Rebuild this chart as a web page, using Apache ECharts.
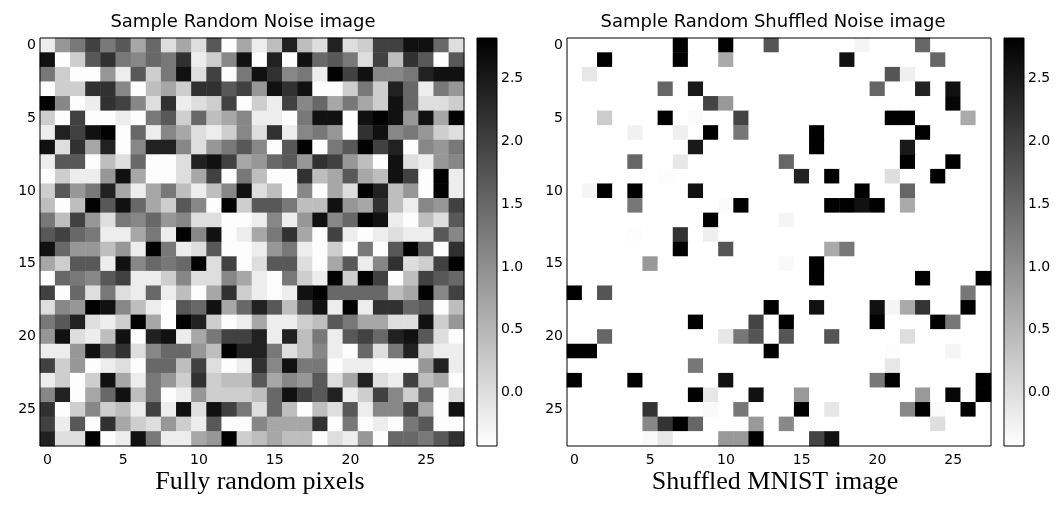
<!DOCTYPE html>
<html>
<head>
<meta charset="UTF-8">
<title>Random noise vs shuffled MNIST</title>
<script src="https://cdn.jsdelivr.net/npm/echarts@6/dist/echarts.min.js"></script>
<style>
  html, body { margin: 0; padding: 0; background: #fff; }
  #main { width: 1060px; height: 518px; }
</style>
</head>
<body>
<div id="main"></div>
<script type="text/javascript">
// pixel index along each image axis
var pixelIdx = [0,1,2,3,4,5,6,7,8,9,10,11,12,13,14,15,16,17,18,19,20,21,22,23,24,25,26,27];
// normalised MNIST range shown by the colour bars
var valueRange = [-0.4242, 2.8215];
var cbTicks = [0, 0.5, 1.0, 1.5, 2.0, 2.5];

// left image: fully random pixels (row by row)
var noise = [
  [-0.2,0.9,1.3,2.0,1.3,1.7,0.7,1.5,0.0,0.7,0.0,1.7,-0.4,0.7,-0.2,0.4,2.4,0.4,0.0,2.4,0.0,0.2,2.0,2.0,2.6,2.6,1.5,0.0],
  [2.6,-0.4,0.2,1.7,2.2,1.3,1.1,1.5,1.3,2.2,-0.2,0.2,1.1,2.6,-0.4,2.4,-0.4,2.6,1.5,1.7,1.3,0.0,2.0,0.4,2.2,1.7,-0.4,1.7],
  [1.3,0.2,-0.4,-0.4,0.9,-0.2,1.7,0.2,1.3,2.6,0.0,2.0,-0.4,1.3,2.6,2.2,1.1,1.3,-0.2,2.8,2.0,2.6,1.1,1.1,1.3,2.4,2.6,2.6],
  [-0.4,0.2,0.2,2.2,2.2,1.1,-0.4,0.4,0.7,0.2,2.2,2.2,1.7,2.0,0.9,2.6,2.2,2.6,-0.4,-0.4,0.2,1.3,0.2,2.4,1.5,-0.2,1.3,0.9],
  [2.8,1.1,-0.4,-0.2,2.2,2.0,1.1,0.0,2.2,-0.2,0.0,0.2,2.0,-0.4,0.2,-0.2,2.0,1.1,1.5,0.7,1.3,0.7,0.2,2.6,1.5,0.0,0.0,0.2],
  [0.2,-0.4,2.0,-0.4,-0.4,-0.2,-0.4,1.3,1.7,0.2,1.5,0.4,0.7,1.1,-0.2,-0.2,-0.4,1.3,2.6,2.6,-0.4,2.6,2.8,2.6,0.9,2.6,0.7,2.8],
  [-0.2,2.4,2.0,2.6,2.8,-0.4,1.5,-0.2,1.1,0.7,0.0,-0.2,0.2,1.1,0.0,2.2,-0.2,1.1,1.3,0.9,-0.4,2.2,2.6,1.1,1.3,0.9,0.2,0.0],
  [2.6,0.0,2.2,0.7,2.4,-0.4,1.1,2.4,2.4,1.1,0.0,0.9,1.3,1.7,1.1,-0.4,1.7,2.8,-0.4,1.3,1.7,2.8,2.0,2.4,-0.4,1.1,0.9,1.3],
  [-0.2,1.7,1.7,-0.4,0.4,0.0,1.5,-0.4,-0.4,0.0,2.4,2.6,2.0,0.7,0.9,1.5,1.7,0.9,2.2,2.0,0.9,0.4,-0.4,2.6,0.0,-0.2,0.9,1.1],
  [-0.4,0.2,-0.2,-0.2,0.9,2.6,0.7,-0.4,-0.4,0.0,0.7,2.0,-0.4,1.3,0.4,-0.4,-0.4,2.2,0.4,0.7,1.7,0.7,0.4,2.6,2.0,-0.4,2.8,-0.2],
  [0.2,1.7,0.9,1.3,2.4,0.7,-0.2,0.7,1.3,0.4,-0.2,0.4,1.1,2.6,0.0,0.4,-0.4,1.1,-0.4,0.7,0.0,2.8,2.4,0.4,0.9,-0.4,2.8,-0.2],
  [0.4,-0.4,0.4,2.8,1.7,2.6,1.5,0.7,0.2,1.7,1.1,-0.4,2.8,0.2,1.7,1.7,1.3,0.4,0.4,2.6,0.9,0.7,2.2,0.4,-0.2,1.1,0.9,2.0],
  [1.3,0.4,2.0,0.9,0.0,1.3,1.1,1.5,0.9,1.1,0.0,0.0,-0.4,-0.4,-0.2,1.1,-0.2,0.9,2.6,1.1,1.5,2.8,2.6,-0.2,-0.4,0.4,0.0,1.7],
  [1.7,2.0,1.5,1.3,-0.2,-0.2,0.7,1.3,-0.2,2.8,1.1,2.6,-0.4,-0.2,0.7,1.3,2.2,0.7,-0.4,2.0,-0.2,-0.4,-0.2,0.0,-0.2,-0.2,1.7,1.1],
  [2.6,1.5,0.9,0.9,0.4,0.9,-0.2,2.8,1.3,-0.2,0.0,1.7,-0.4,-0.4,-0.2,0.9,1.3,-0.2,-0.4,0.2,-0.4,1.3,-0.4,1.7,2.8,1.7,-0.4,2.2],
  [0.7,0.2,1.7,1.7,-0.2,2.6,1.1,1.5,1.3,1.5,2.8,0.0,2.0,-0.4,0.0,1.7,1.7,0.0,-0.4,0.7,1.7,-0.2,1.1,2.2,0.0,0.2,2.0,2.8],
  [-0.4,1.5,1.3,1.1,1.7,2.0,-0.2,-0.2,0.2,1.1,0.0,0.0,1.1,0.7,-0.2,-0.4,1.3,0.2,-0.2,2.8,0.2,2.8,2.0,-0.4,0.4,2.0,1.7,1.5],
  [2.0,-0.4,1.5,0.0,1.3,0.0,-0.2,1.5,-0.2,0.4,-0.4,0.7,2.2,0.2,-0.2,-0.4,-0.2,2.6,2.8,1.5,1.5,1.5,1.5,0.4,0.7,2.8,1.1,2.0],
  [0.0,1.1,0.9,2.8,2.6,1.1,0.4,-0.2,-0.4,1.7,1.5,2.6,0.7,1.5,2.4,1.7,0.4,1.7,2.6,-0.2,2.8,-0.2,2.2,2.2,1.5,1.7,-0.4,0.4],
  [1.3,1.7,2.4,0.0,-0.2,0.2,2.8,0.7,-0.4,2.8,2.4,0.2,-0.4,-0.2,0.7,-0.2,-0.2,0.2,0.4,1.7,1.3,0.7,0.7,0.0,0.0,2.6,0.2,0.9],
  [0.9,2.6,0.0,-0.2,0.4,2.6,-0.4,2.4,2.6,-0.2,0.7,1.3,2.0,2.0,2.4,-0.2,2.4,0.4,1.3,-0.2,1.7,2.0,1.5,2.4,2.6,1.7,0.0,-0.4],
  [-0.2,-0.2,0.9,2.6,1.7,2.2,0.0,1.1,1.5,1.5,0.9,0.4,2.8,2.4,2.4,1.3,0.0,0.4,1.1,-0.2,-0.4,1.5,0.0,1.3,2.4,0.2,-0.2,-0.2],
  [2.0,0.2,0.9,-0.4,-0.2,0.0,-0.4,1.5,1.5,0.4,2.0,0.0,-0.4,-0.2,2.2,1.1,2.6,1.3,1.3,-0.4,-0.2,-0.2,-0.4,-0.4,-0.4,0.9,2.4,-0.2],
  [-0.2,0.2,-0.4,0.2,2.6,0.7,-0.2,1.3,0.9,0.2,2.2,0.2,0.4,0.4,1.7,0.7,1.1,0.9,1.7,0.0,0.7,2.4,0.0,-0.2,2.0,0.4,0.7,-0.4],
  [1.1,2.4,-0.4,0.7,1.5,2.6,0.4,1.3,-0.4,-0.2,0.9,0.2,0.2,0.2,0.4,1.5,2.6,2.0,1.7,2.4,-0.2,0.2,2.0,1.1,0.2,1.5,-0.4,0.0],
  [2.2,-0.4,0.2,1.1,0.2,0.4,-0.2,2.0,-0.2,2.6,0.0,2.6,2.0,1.3,0.0,1.5,0.4,-0.4,0.4,0.0,1.7,-0.2,1.1,1.1,2.0,0.7,-0.4,2.6],
  [2.0,-0.2,1.7,-0.4,2.2,0.7,0.2,0.0,0.9,0.2,-0.2,1.7,-0.4,-0.4,1.1,0.7,0.7,0.7,2.2,-0.4,1.3,-0.4,-0.2,-0.4,1.3,1.7,-0.4,-0.4],
  [2.4,0.0,0.0,2.8,-0.4,-0.2,2.6,1.3,-0.2,-0.2,0.7,0.9,2.8,0.2,0.4,0.7,0.4,0.4,-0.4,0.0,-0.2,0.9,-0.4,1.5,1.5,1.3,1.7,2.2]
];

// right image: shuffled MNIST pixels (mostly background)
var shuffled = [
  [-0.42,-0.42,-0.42,-0.42,-0.42,-0.42,-0.42, 2.82,-0.42,-0.42,2.82,-0.42,-0.42,1.74, -0.42,-0.42,-0.42,-0.42,-0.42,-0.3,-0.42, -0.42,-0.42,1.52,-0.42,-0.42,-0.42,-0.42],
  [-0.42,-0.42,2.82,-0.42,-0.42,-0.42,-0.42, 2.82,-0.42,-0.42,0.66,-0.42,-0.42,-0.42, -0.42,-0.42,-0.42,-0.42,2.61,-0.42,-0.42, -0.42,-0.42,-0.42,1.52,-0.42,-0.42,-0.42],
  [-0.42,-0.12,-0.42,-0.42,-0.42,-0.42,-0.42, -0.42,-0.42,-0.42,-0.42,-0.42,-0.42,-0.42, -0.42,-0.42,-0.42,-0.42,-0.42,-0.42,-0.42, 1.74,-0.22,-0.42,-0.42,-0.42,-0.42,-0.42],
  [-0.42,-0.42,-0.42,-0.42,-0.42,-0.42,1.52, -0.42,2.5,-0.42,-0.42,-0.42,-0.42,-0.42, -0.42,-0.42,-0.42,-0.42,-0.42,-0.42,1.52, -0.42,-0.42,2.39,-0.42,2.61,-0.42,-0.42],
  [-0.42,-0.42,-0.42,-0.42,-0.42,-0.42,-0.42, -0.42,-0.42,1.96,0.87,-0.42,-0.42,-0.42, -0.42,-0.42,-0.42,-0.42,-0.42,-0.42,-0.42, -0.42,-0.42,-0.42,-0.42,2.75,-0.42,-0.42],
  [-0.42,-0.42,0.22,-0.42,-0.42,-0.42,2.82, -0.42,-0.37,-0.42,-0.42,1.96,-0.42,-0.42, -0.42,-0.42,-0.42,-0.42,-0.42,-0.42,-0.42, 2.82,2.82,-0.42,-0.42,-0.42,0.66,-0.42],
  [-0.42,-0.42,-0.42,-0.42,-0.25,-0.42,-0.42, -0.22,-0.42,2.82,-0.42,1.31,-0.42,-0.42, -0.42,-0.42,2.82,-0.42,-0.42,-0.42,-0.42, -0.42,-0.42,2.82,-0.42,-0.42,-0.42,-0.42],
  [-0.42,-0.42,-0.42,-0.42,-0.42,-0.42,-0.42, -0.42,2.5,-0.42,-0.42,-0.42,-0.42,-0.42, -0.42,-0.42,2.82,-0.42,-0.42,-0.42,-0.42, -0.42,2.5,-0.42,-0.42,-0.42,-0.42,-0.42],
  [-0.42,-0.42,-0.42,-0.42,1.52,-0.42,-0.42, -0.12,-0.42,-0.42,-0.42,-0.42,-0.42,-0.42, 1.52,-0.42,-0.42,-0.42,-0.42,-0.42,-0.42, -0.42,2.82,-0.42,-0.42,2.82,-0.42,-0.42],
  [-0.42,-0.42,-0.42,-0.42,-0.42,-0.42,-0.4, -0.42,-0.42,-0.42,-0.42,-0.42,-0.42,-0.42, -0.42,2.39,-0.42,2.82,-0.42,-0.42,-0.42, 0.0,-0.42,-0.42,2.82,-0.42,-0.42,-0.42],
  [-0.42,-0.3,2.82,-0.42,2.82,-0.42,-0.42, -0.42,2.61,-0.42,-0.42,-0.42,-0.42,-0.42, -0.42,-0.42,-0.42,-0.42,-0.42,2.82,-0.42, -0.42,1.52,-0.42,-0.42,-0.42,-0.42,-0.42],
  [-0.42,-0.42,-0.42,-0.42,1.31,-0.42,-0.42, -0.42,-0.42,-0.42,-0.37,2.82,-0.42,-0.42, -0.42,-0.42,-0.42,2.82,2.82,2.61,2.82, -0.42,0.66,-0.42,-0.42,-0.42,-0.42,-0.42],
  [-0.42,-0.42,-0.42,-0.42,-0.42,-0.42,-0.42, -0.42,-0.42,2.82,-0.42,-0.42,-0.42,-0.42, -0.3,-0.42,-0.42,-0.42,-0.42,-0.42,-0.42, -0.42,-0.42,-0.42,-0.42,-0.42,-0.42,-0.42],
  [-0.42,-0.42,-0.42,-0.42,-0.4,-0.42,-0.42, 2.17,-0.42,-0.22,-0.42,-0.42,-0.42,-0.42, -0.42,-0.42,-0.42,-0.42,-0.42,-0.42,-0.42, -0.42,-0.42,-0.42,-0.42,-0.42,-0.42,-0.42],
  [-0.42,-0.42,-0.42,-0.42,-0.42,-0.42,-0.42, 2.82,-0.42,-0.42,1.74,-0.42,-0.42,-0.42, -0.42,-0.42,-0.42,0.66,1.31,-0.42,-0.42, -0.42,-0.42,-0.42,-0.42,-0.42,-0.42,-0.42],
  [-0.42,-0.42,-0.42,-0.42,-0.42,0.87,-0.42, -0.42,-0.42,-0.42,-0.42,-0.42,-0.42,-0.42, -0.35,-0.42,2.82,-0.42,-0.42,-0.42,-0.42, -0.42,-0.42,-0.42,-0.42,-0.42,-0.42,-0.42],
  [-0.42,-0.42,-0.42,-0.42,-0.42,-0.42,-0.42, -0.42,-0.42,-0.42,-0.42,-0.42,-0.42,-0.42, -0.42,-0.42,2.82,-0.42,-0.42,-0.42,-0.42, -0.42,-0.42,2.82,-0.42,-0.42,-0.42,2.82],
  [2.82,-0.42,1.74,-0.42,-0.42,-0.42,-0.42, -0.42,-0.42,-0.42,-0.42,-0.42,-0.42,-0.42, -0.42,-0.42,-0.42,-0.42,-0.42,-0.42,-0.42, -0.42,-0.42,-0.42,-0.42,-0.42,1.31,-0.42],
  [-0.42,-0.42,-0.42,-0.42,-0.42,-0.42,-0.42, -0.42,-0.42,-0.42,-0.42,-0.42,-0.42,2.82, -0.42,-0.42,2.61,-0.42,-0.42,-0.42,2.61, -0.3,0.66,2.17,-0.42,-0.42,2.82,-0.42],
  [-0.42,-0.42,-0.42,-0.42,-0.42,-0.42,-0.42, -0.42,2.82,-0.42,-0.42,-0.42,1.96,-0.42, 2.82,-0.42,-0.42,-0.42,-0.42,-0.42,2.82, -0.42,-0.42,-0.42,2.82,1.31,-0.42,-0.42],
  [-0.42,-0.42,1.52,-0.42,-0.42,-0.42,-0.42, -0.42,-0.42,-0.42,-0.12,1.31,1.74,-0.42, 1.74,-0.42,-0.42,1.74,-0.42,-0.42,-0.42, -0.42,0.0,-0.42,-0.42,-0.42,-0.42,-0.42],
  [2.82,2.82,-0.42,-0.42,-0.42,-0.42,-0.42, -0.42,-0.42,-0.42,-0.42,-0.42,-0.42,2.82, -0.42,-0.42,-0.42,-0.42,-0.42,-0.42,-0.42, -0.4,-0.42,-0.42,-0.42,-0.3,-0.42,-0.42],
  [-0.42,-0.42,-0.42,-0.42,-0.42,-0.42,-0.42, -0.42,1.31,-0.42,-0.42,-0.42,-0.42,-0.42, -0.42,-0.42,-0.42,-0.42,-0.42,-0.42,-0.42, -0.12,-0.42,-0.42,-0.42,-0.42,-0.42,-0.42],
  [2.82,-0.42,-0.42,-0.42,2.82,-0.42,-0.42, -0.42,-0.42,-0.42,2.61,-0.42,-0.42,-0.42, -0.42,-0.42,-0.42,-0.42,-0.42,-0.42,1.31, 2.82,-0.42,-0.42,-0.42,-0.42,-0.42,2.82],
  [-0.42,-0.42,-0.42,-0.42,-0.42,-0.42,-0.42, -0.42,2.82,-0.12,-0.42,-0.42,2.61,-0.42, -0.42,0.87,-0.42,-0.42,-0.42,-0.42,-0.42, -0.42,-0.42,0.87,-0.42,2.75,-0.42,2.82],
  [-0.42,-0.42,-0.42,-0.42,-0.42,2.17,-0.42, -0.42,-0.42,-0.35,-0.42,1.31,-0.42,-0.42, -0.42,2.82,-0.42,-0.12,-0.42,-0.42,-0.42, -0.42,1.09,2.82,-0.37,-0.42,2.82,-0.42],
  [-0.42,-0.42,-0.42,-0.42,-0.42,1.09,2.17, 2.82,1.52,-0.42,-0.42,-0.42,0.87,-0.42, 1.09,-0.42,-0.42,-0.42,-0.42,-0.42,-0.42, -0.42,-0.42,-0.42,0.0,-0.42,-0.42,-0.42],
  [-0.42,-0.42,-0.42,-0.42,-0.42,-0.35,-0.12, -0.42,-0.42,-0.42,0.87,0.87,2.82,-0.42, -0.42,-0.42,1.96,2.61,-0.42,-0.42,-0.42, -0.42,-0.42,-0.42,-0.42,-0.42,-0.42,-0.42]
];

function toCells(rows) {
  var out = [];
  rows.forEach(function (row, y) {
    row.forEach(function (v, x) { out.push([x, y, v]); });
  });
  return out;
}

var font = 'DejaVu Sans';
var tickFont = { fontFamily: font, fontSize: 14, color: '#000' };

function pixelAxis(gridIndex, isY) {
  return {
    type: 'category',
    gridIndex: gridIndex,
    data: pixelIdx,
    inverse: !!isY,
    axisLine: { show: false },
    axisTick: { interval: 4, alignWithLabel: true, length: 5, lineStyle: { color: '#000', width: 1 } },
    axisLabel: Object.assign({ interval: 4, margin: isY ? 4 : 7 }, tickFont),
    splitLine: { show: false }
  };
}

function frame(left, width) {
  return { left: left, top: 38, width: width, height: 408, show: true, z: 10,
           backgroundColor: 'rgba(0,0,0,0)', borderColor: '#000', borderWidth: 1 };
}

function colorbarRender(params, api) {
  var p0 = api.coord([api.value(0), api.value(1)]);
  var p1 = api.coord([api.value(2), api.value(3)]);
  return {
    type: 'rect',
    shape: { x: p0[0], y: p1[1], width: p1[0] - p0[0], height: p0[1] - p1[1] },
    style: { fill: new echarts.graphic.LinearGradient(0, 0, 0, 1, [
      { offset: 0, color: '#000000' }, { offset: 1, color: '#ffffff' }]) }
  };
}

var cbAxisX = function (g) { return { type: 'value', gridIndex: g, min: 0, max: 1, show: false }; };
var cbAxisY = function (g) {
  return {
    type: 'value', gridIndex: g, position: 'right',
    min: valueRange[0], max: valueRange[1],
    axisLine: { show: false }, splitLine: { show: false },
    axisTick: { show: true, customValues: cbTicks, length: 5, lineStyle: { color: '#000' } },
    axisLabel: Object.assign({ customValues: cbTicks, margin: 4,
      formatter: function (v) { return v.toFixed(1); } }, tickFont)
  };
};

var titleStyle = { fontFamily: font, fontSize: 18, fontWeight: 'normal', color: '#000' };
var captionStyle = { fontFamily: 'Liberation Serif', fontSize: 26, fontWeight: 'normal', color: '#000' };

var chart = echarts.init(document.getElementById('main'));
chart.setOption({
  animation: false,
  backgroundColor: '#fff',
  title: [
    { text: 'Sample Random Noise image', left: 243, top: 13, textAlign: 'center', padding: 0, textStyle: titleStyle },
    { text: 'Sample Random Shuffled Noise image', left: 773, top: 13, textAlign: 'center', padding: 0, textStyle: titleStyle },
    { text: 'Fully random pixels', left: 260, top: 469, textAlign: 'center', padding: 0, textStyle: captionStyle },
    { text: 'Shuffled MNIST image', left: 775, top: 469, textAlign: 'center', padding: 0, textStyle: captionStyle }
  ],
  grid: [frame(40, 424), frame(567, 424), frame(477, 20), frame(1004, 20)],
  xAxis: [pixelAxis(0, false), pixelAxis(1, false), cbAxisX(2), cbAxisX(3)],
  yAxis: [pixelAxis(0, true), pixelAxis(1, true), cbAxisY(2), cbAxisY(3)],
  visualMap: {
    type: 'continuous', show: false, dimension: 2, seriesIndex: [0, 1],
    min: valueRange[0], max: valueRange[1],
    inRange: { color: ['#ffffff', '#000000'] }
  },
  series: [
    { type: 'heatmap', xAxisIndex: 0, yAxisIndex: 0, data: toCells(noise), progressive: 0, emphasis: { disabled: true } },
    { type: 'heatmap', xAxisIndex: 1, yAxisIndex: 1, data: toCells(shuffled), progressive: 0, emphasis: { disabled: true } },
    { type: 'custom', xAxisIndex: 2, yAxisIndex: 2, silent: true, renderItem: colorbarRender,
      data: [[0, valueRange[0], 1, valueRange[1]]] },
    { type: 'custom', xAxisIndex: 3, yAxisIndex: 3, silent: true, renderItem: colorbarRender,
      data: [[0, valueRange[0], 1, valueRange[1]]] }
  ]
});
</script>
</body>
</html>
